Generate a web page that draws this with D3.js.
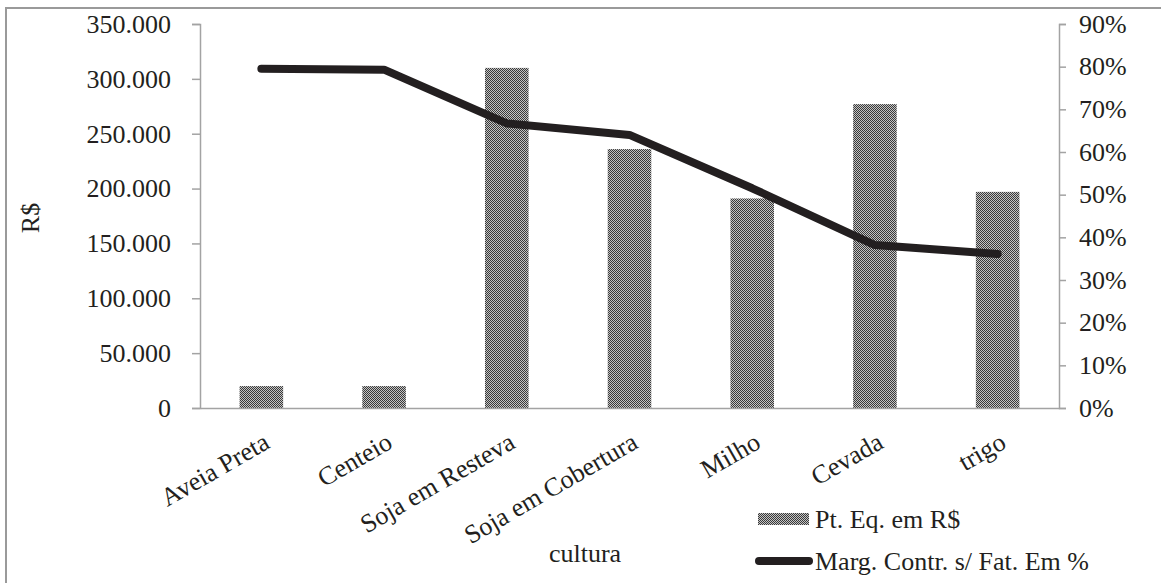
<!DOCTYPE html>
<html>
<head>
<meta charset="utf-8">
<script src="https://cdn.jsdelivr.net/npm/d3@7"></script>
<style>
  html, body { margin: 0; padding: 0; background: #fff; }
  svg { display: block; }
  text { font-family: "Liberation Serif", "Times New Roman", serif; fill: #231f20; }
</style>
</head>
<body>
<svg id="chart" width="1161" height="583"></svg>
<script>
// Culturas
const categories = ["Aveia Preta", "Centeio", "Soja em Resteva", "Soja em Cobertura", "Milho", "Cevada", "trigo"];
// Ponto de equilíbrio em R$
const pontoEquilibrio = [20000, 20000, 310000, 236000, 191000, 277000, 197000];
// Margem de contribuição sobre faturamento (fração)
const margemContrib = [0.795, 0.793, 0.667, 0.640, 0.515, 0.382, 0.361];
// Ticks dos eixos
const leftTicks = [0, 50000, 100000, 150000, 200000, 250000, 300000, 350000];
const rightTicks = [0, 0.1, 0.2, 0.3, 0.4, 0.5, 0.6, 0.7, 0.8, 0.9];
const seriesNames = ["Pt. Eq. em R$", "Marg. Contr. s/ Fat. Em %"];

const svg = d3.select("#chart");
const axisColor = "#a3a3a3";
const fontSize = 26;

const plot = { left: 200, right: 1059, top: 24, bottom: 408 };

const br = d3.formatLocale({ decimal: ",", thousands: ".", grouping: [3], currency: ["R$", ""] });
const fmtLeft = br.format(",d");
const fmtRight = v => Math.round(v * 100) + "%";

const x = d3.scaleBand().domain(categories).range([plot.left, plot.right]).padding(0);
const yL = d3.scaleLinear().domain([0, 350000]).range([plot.bottom, plot.top]);
const yR = d3.scaleLinear().domain([0, 0.9]).range([plot.bottom, plot.top]);
const barW = x.bandwidth() * 0.355;

// dithered fill for bars
const defs = svg.append("defs");
const pat = defs.append("pattern")
  .attr("id", "dither").attr("width", 2).attr("height", 2)
  .attr("patternUnits", "userSpaceOnUse");
pat.append("rect").attr("width", 2).attr("height", 2).attr("fill", "#c4c4c4");
pat.append("rect").attr("x", 0).attr("y", 0).attr("width", 1).attr("height", 1).attr("fill", "#3a3a3a");
pat.append("rect").attr("x", 1).attr("y", 1).attr("width", 1).attr("height", 1).attr("fill", "#3a3a3a");

// outer frame
svg.append("rect")
  .attr("x", 6).attr("y", 8).attr("width", 1200).attr("height", 620)
  .attr("fill", "none").attr("stroke", "#9a9a9a").attr("stroke-width", 2);

// bars
svg.append("g").selectAll("rect")
  .data(categories)
  .join("rect")
  .attr("x", d => x(d) + (x.bandwidth() - barW) / 2)
  .attr("y", (d, i) => yL(pontoEquilibrio[i]))
  .attr("width", barW)
  .attr("height", (d, i) => plot.bottom - yL(pontoEquilibrio[i]))
  .attr("fill", "url(#dither)");

// left axis
const gL = svg.append("g")
  .attr("transform", `translate(${plot.left},0)`)
  .call(d3.axisLeft(yL).tickValues(leftTicks).tickFormat(fmtLeft).tickSize(8).tickPadding(21));
// right axis
const gR = svg.append("g")
  .attr("transform", `translate(${plot.right},0)`)
  .call(d3.axisRight(yR).tickValues(rightTicks).tickFormat(fmtRight).tickSize(7).tickPadding(13));

[gL, gR].forEach(g => {
  g.select(".domain").attr("stroke", axisColor).attr("stroke-width", 1.5);
  g.selectAll(".tick line").attr("stroke", axisColor).attr("stroke-width", 1.5);
  g.selectAll(".tick text")
    .attr("font-family", "Liberation Serif, serif")
    .attr("font-size", fontSize).attr("fill", "#231f20");
});

// category axis baseline
const gX = svg.append("g")
  .attr("transform", `translate(0,${plot.bottom})`)
  .call(d3.axisBottom(x).tickSize(0).tickPadding(0));
gX.select(".domain").attr("stroke", axisColor).attr("stroke-width", 1.5);
gX.selectAll(".tick text")
  .attr("font-family", "Liberation Serif, serif")
  .attr("font-size", fontSize).attr("fill", "#231f20")
  .attr("text-anchor", "end")
  .attr("dy", 0)
  .attr("y", 0)
  .attr("transform", "translate(10,39) rotate(-30)");

// line series
const line = d3.line()
  .x((d, i) => x(categories[i]) + x.bandwidth() / 2)
  .y(d => yR(d));
svg.append("path")
  .datum(margemContrib)
  .attr("d", line)
  .attr("fill", "none")
  .attr("stroke", "#231f20")
  .attr("stroke-width", 8)
  .attr("stroke-linecap", "round")
  .attr("stroke-linejoin", "round");

// axis titles
svg.append("text")
  .attr("transform", "translate(39,218) rotate(-90)")
  .attr("text-anchor", "middle")
  .attr("font-size", fontSize)
  .text("R$");
svg.append("text")
  .attr("x", 585).attr("y", 562)
  .attr("text-anchor", "middle")
  .attr("font-size", fontSize)
  .text("cultura");

// legend
const lg = svg.append("g");
lg.append("rect")
  .attr("x", 758).attr("y", 513).attr("width", 51).attr("height", 12)
  .attr("fill", "url(#dither)");
lg.append("text").attr("x", 815).attr("y", 528).attr("font-size", fontSize).text(seriesNames[0]);
lg.append("line")
  .attr("x1", 759).attr("x2", 809).attr("y1", 561).attr("y2", 561)
  .attr("stroke", "#231f20").attr("stroke-width", 8).attr("stroke-linecap", "round");
lg.append("text").attr("x", 815).attr("y", 570).attr("font-size", fontSize).text(seriesNames[1]);
</script>
</body>
</html>
